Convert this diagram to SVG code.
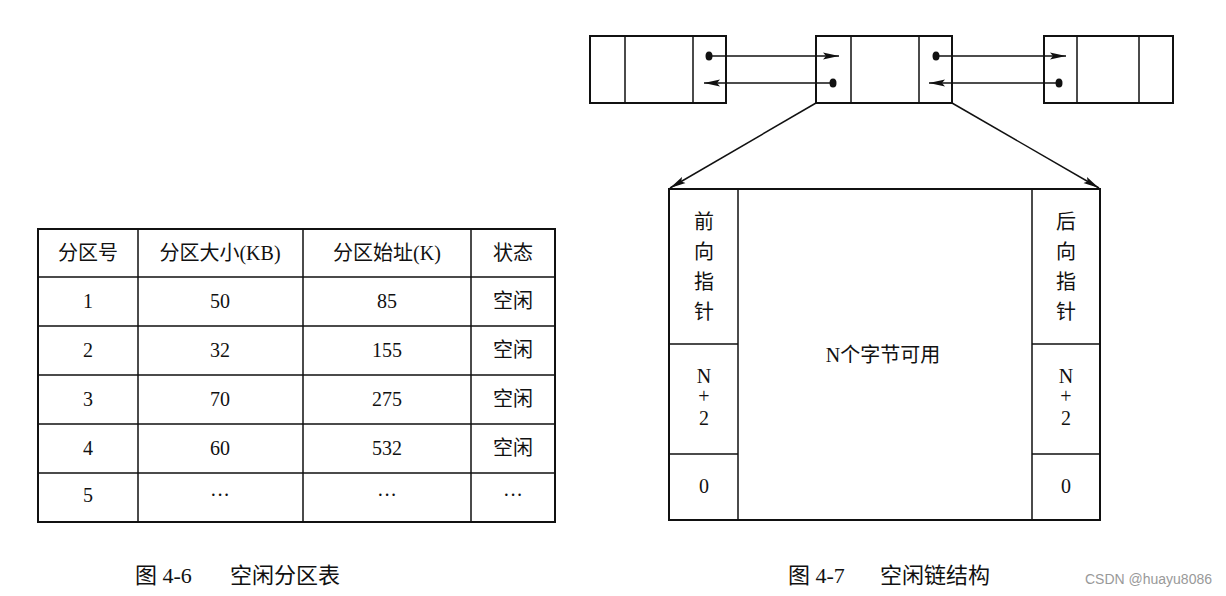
<svg xmlns="http://www.w3.org/2000/svg" width="1226" height="596" viewBox="0 0 1226 596">
<style>
.b{fill:none;stroke:#111;stroke-width:2}
.l{stroke:#111;stroke-width:1.5;fill:none}
.t{font-family:"Liberation Serif","Noto Sans CJK SC",serif;font-size:20px;fill:#111;text-anchor:middle}
.c{font-family:"Liberation Serif","Noto Sans CJK SC",serif;font-size:22px;fill:#111}
</style>
<defs>
<marker id="a" viewBox="0 0 16 8" refX="16" refY="4" markerWidth="16" markerHeight="8" orient="auto" markerUnits="userSpaceOnUse"><path d="M0,0.5 L16,4 L0,7.5 L3,4 Z" fill="#111"/></marker>
</defs>
<rect width="1226" height="596" fill="#fff"/>
<g id="table">
<rect class="b" x="38" y="229" width="517" height="293"/>
<path class="l" d="M138,229V522M303,229V522M471,229V522M38,277H555M38,326H555M38,375H555M38,424H555M38,473H555"/>
<g class="t">
<text x="88" y="260">分区号</text><text x="220" y="260">分区大小(KB)</text><text x="387" y="260">分区始址(K)</text><text x="513" y="260">状态</text>
<text x="88" y="308">1</text><text x="220" y="308">50</text><text x="387" y="308">85</text><text x="513" y="308">空闲</text>
<text x="88" y="357">2</text><text x="220" y="357">32</text><text x="387" y="357">155</text><text x="513" y="357">空闲</text>
<text x="88" y="406">3</text><text x="220" y="406">70</text><text x="387" y="406">275</text><text x="513" y="406">空闲</text>
<text x="88" y="455">4</text><text x="220" y="455">60</text><text x="387" y="455">532</text><text x="513" y="455">空闲</text>
<text x="88" y="502">5</text><text x="220" y="502">···</text><text x="387" y="502">···</text><text x="513" y="502">···</text>
</g>
</g>
<g id="node-left"><rect class="b" x="590" y="36" width="136" height="67"/><path class="l" d="M625,36V103M693,36V103"/></g>
<g id="node-mid"><rect class="b" x="816" y="36" width="136" height="67"/><path class="l" d="M851,36V103M919,36V103"/></g>
<g id="node-right"><rect class="b" x="1044" y="36" width="129" height="67"/><path class="l" d="M1077,36V103M1139,36V103"/></g>
<g id="block">
<rect class="b" x="669" y="189" width="431" height="331"/>
<path class="l" d="M738,189V520M1032,189V520M669,344H738M669,454H738M1032,344H1100M1032,454H1100"/>
<g class="t">
<text x="704" y="229">前</text><text x="704" y="259">向</text><text x="704" y="289">指</text><text x="704" y="319">针</text>
<text x="1066" y="229">后</text><text x="1066" y="259">向</text><text x="1066" y="289">指</text><text x="1066" y="319">针</text>
<text x="704" y="383">N</text><text x="704" y="403">+</text><text x="704" y="425">2</text>
<text x="1066" y="383">N</text><text x="1066" y="403">+</text><text x="1066" y="425">2</text>
<text x="704" y="493">0</text><text x="1066" y="493">0</text>
<text x="883" y="362">N个字节可用</text>
</g>
</g>
<g id="connectors">
<g fill="#111"><ellipse cx="709" cy="56" rx="3.5" ry="4.5"/><ellipse cx="833" cy="83" rx="3.5" ry="4.5"/><ellipse cx="936" cy="56" rx="3.5" ry="4.5"/><ellipse cx="1059" cy="83" rx="3.5" ry="4.5"/></g>
<path class="l" marker-end="url(#a)" d="M709,56H839"/>
<path class="l" marker-end="url(#a)" d="M833,83H704"/>
<path class="l" marker-end="url(#a)" d="M936,56H1066"/>
<path class="l" marker-end="url(#a)" d="M1059,83H929"/>
<path class="l" stroke-width="1.2" marker-end="url(#a)" d="M816,103L670,188"/>
<path class="l" stroke-width="1.2" marker-end="url(#a)" d="M952,103L1099,188"/>
</g>
<text class="c" x="135" y="583">图 4-6</text><text class="c" x="230" y="583">空闲分区表</text>
<text class="c" x="788" y="583">图 4-7</text><text class="c" x="880" y="583">空闲链结构</text>
<text x="1212" y="584" text-anchor="end" font-family="Liberation Sans,sans-serif" font-size="14" fill="#999">CSDN @huayu8086</text>
</svg>
